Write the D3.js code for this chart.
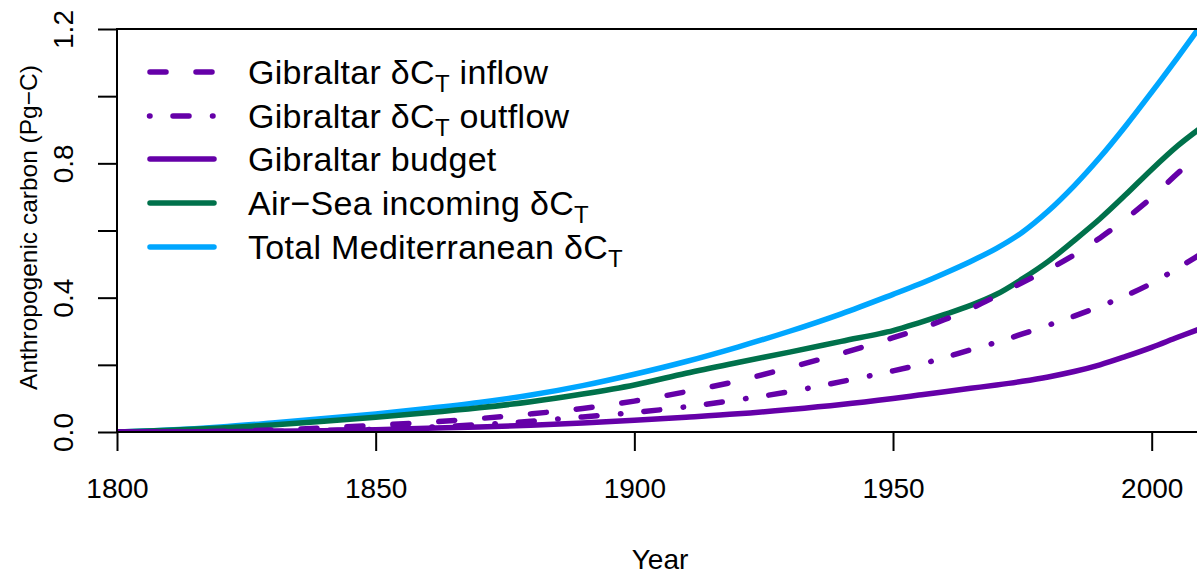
<!DOCTYPE html>
<html>
<head>
<meta charset="utf-8">
<script src="https://cdn.jsdelivr.net/npm/d3@7"></script>
<style>
  body { margin: 0; background: #fff; }
  svg { display: block; font-family: "Liberation Sans", Arial, Helvetica, sans-serif; }
</style>
</head>
<body>
<div id="chart"></div>
<script>
// Werte (Pg-C)
const years   = [1800, 1810, 1820, 1830, 1840, 1850, 1860, 1870, 1880, 1890, 1900, 1910, 1920, 1930, 1940, 1950, 1955, 1960, 1965, 1970, 1975, 1980, 1985, 1990, 1995, 2000, 2005, 2009];
const inflow  = [0, 0, 0.002, 0.006, 0.012, 0.02, 0.029, 0.04, 0.054, 0.07, 0.092, 0.12, 0.152, 0.192, 0.234, 0.281, 0.306, 0.335, 0.367, 0.405, 0.445, 0.484, 0.527, 0.578, 0.635, 0.698, 0.77, 0.822];
const outflow = [0, 0, 0.001, 0.002, 0.005, 0.008, 0.014, 0.022, 0.032, 0.045, 0.058, 0.075, 0.096, 0.12, 0.15, 0.182, 0.2, 0.222, 0.245, 0.267, 0.292, 0.318, 0.345, 0.374, 0.406, 0.443, 0.488, 0.525];
const budget  = [0, 0, 0.001, 0.002, 0.004, 0.007, 0.011, 0.015, 0.02, 0.027, 0.035, 0.044, 0.054, 0.067, 0.082, 0.1, 0.11, 0.12, 0.13, 0.14, 0.151, 0.164, 0.18, 0.2, 0.225, 0.252, 0.282, 0.305];
const airSea  = [0, 0.005, 0.012, 0.021, 0.032, 0.044, 0.057, 0.072, 0.09, 0.113, 0.14, 0.175, 0.207, 0.238, 0.27, 0.302, 0.325, 0.35, 0.377, 0.41, 0.456, 0.508, 0.57, 0.635, 0.707, 0.782, 0.852, 0.9];
const total   = [0, 0.006, 0.015, 0.027, 0.04, 0.054, 0.07, 0.088, 0.11, 0.138, 0.172, 0.21, 0.253, 0.3, 0.352, 0.41, 0.44, 0.473, 0.508, 0.547, 0.595, 0.658, 0.733, 0.818, 0.912, 1.012, 1.115, 1.2];

const xTicks = [1800, 1850, 1900, 1950, 2000];
const yTicks = [0, 0.2, 0.4, 0.6, 0.8, 1.0, 1.2];
const yLabelled = [0, 0.4, 0.8, 1.2];

const purple = "#6500a8", green = "#00714b", blue = "#00a6ff";

// Reihenfolge wie in der Legende
const series = [
  { name: "Gibraltar δC", sub: "T", after: " inflow",  values: inflow,  color: purple, dash: "16,30" },
  { name: "Gibraltar δC", sub: "T", after: " outflow", values: outflow, color: purple, dash: "0.5,23,16,23.5" },
  { name: "Gibraltar budget", sub: "", after: "",      values: budget,  color: purple, dash: null },
  { name: "Air−Sea incoming δC", sub: "T", after: "",  values: airSea,  color: green,  dash: null },
  { name: "Total Mediterranean δC", sub: "T", after: "", values: total, color: blue,   dash: null }
];

const width = 1197, height = 575;
const plotLeft = 117, plotTop = 29, plotBottom = 432;

const svg = d3.select("#chart").append("svg")
  .attr("width", width)
  .attr("height", height);

const x = d3.scaleLinear().domain([1800, 2009]).range([plotLeft, plotLeft + 209 * 5.1735]);
const y = d3.scaleLinear().domain([0, 1.2]).range([plotBottom, plotTop]);

svg.append("clipPath").attr("id", "clip")
  .append("rect").attr("x", plotLeft).attr("y", plotTop - 1)
  .attr("width", width - plotLeft).attr("height", plotBottom - plotTop + 1);

const line = d3.line()
  .x((d, i) => x(years[i]))
  .y(d => y(d))
  .curve(d3.curveCatmullRom.alpha(0.5));

// Linien zeichnen (Gesamt zuerst, Budget zuletzt)
const drawOrder = [4, 3, 0, 1, 2];
drawOrder.forEach(k => {
  const s = series[k];
  svg.append("path")
    .attr("clip-path", "url(#clip)")
    .attr("d", line(s.values))
    .attr("fill", "none")
    .attr("stroke", s.color)
    .attr("stroke-width", 5.5)
    .attr("stroke-linecap", "round")
    .attr("stroke-linejoin", "round")
    .attr("stroke-dasharray", s.dash);
});

// Rahmen: oben, links, unten
svg.append("path")
  .attr("d", `M${width},${plotTop}H${plotLeft}V${plotBottom}H${width}`)
  .attr("fill", "none")
  .attr("stroke", "#000")
  .attr("stroke-width", 2);

// x-Achse
const xAxis = svg.append("g")
  .attr("transform", `translate(0,${plotBottom})`)
  .call(d3.axisBottom(x).tickValues(xTicks).tickSize(19).tickFormat(d3.format("d")));
xAxis.select(".domain").remove();
xAxis.selectAll(".tick line").attr("stroke", "#000").attr("stroke-width", 2);
xAxis.selectAll(".tick text")
  .attr("y", 66).attr("dy", 0)
  .attr("font-size", 28)
  .attr("font-family", "Liberation Sans, Arial, sans-serif")
  .attr("fill", "#000");

// y-Achse
const yAxis = svg.append("g")
  .attr("transform", `translate(${plotLeft},0)`)
  .call(d3.axisLeft(y).tickValues(yTicks).tickSize(19)
    .tickFormat(d => yLabelled.some(v => Math.abs(v - d) < 1e-9) ? d3.format(".1f")(d) : ""));
yAxis.select(".domain").remove();
yAxis.selectAll(".tick line").attr("stroke", "#000").attr("stroke-width", 2);
yAxis.selectAll(".tick text")
  .attr("transform", "rotate(-90)")
  .attr("x", 0).attr("y", -44).attr("dy", 0)
  .attr("text-anchor", "middle")
  .attr("font-size", 28)
  .attr("font-family", "Liberation Sans, Arial, sans-serif")
  .attr("fill", "#000");

// Achsentitel
svg.append("text")
  .attr("x", (plotLeft + 1203) / 2)
  .attr("y", 569)
  .attr("text-anchor", "middle")
  .attr("font-size", 28)
  .text("Year");

svg.append("text")
  .attr("transform", `translate(37,${(plotTop + plotBottom) / 2 - 3}) rotate(-90)`)
  .attr("text-anchor", "middle")
  .attr("font-size", 24.5)
  .text("Anthropogenic carbon (Pg−C)");

// Legende
const legendY = [72, 116, 159, 203, 247];
series.forEach((s, i) => {
  const ly = legendY[i];
  const isDotDash = s.dash && s.dash.startsWith("0.5");
  svg.append("line")
    .attr("x1", isDotDash ? 149.5 : 150)
    .attr("x2", 214)
    .attr("y1", ly).attr("y2", ly)
    .attr("stroke", s.color)
    .attr("stroke-width", 5.5)
    .attr("stroke-linecap", "round")
    .attr("stroke-dasharray", s.dash);

  const t = svg.append("text")
    .attr("x", 248)
    .attr("y", ly + 12)
    .attr("font-size", 34)
    .attr("letter-spacing", 0.3);
  t.append("tspan").text(s.name);
  if (s.sub) {
    t.append("tspan").attr("font-size", 24).attr("dy", 8).text(s.sub);
    if (s.after) t.append("tspan").attr("dy", -8).text(s.after);
  }
});
</script>
</body>
</html>
